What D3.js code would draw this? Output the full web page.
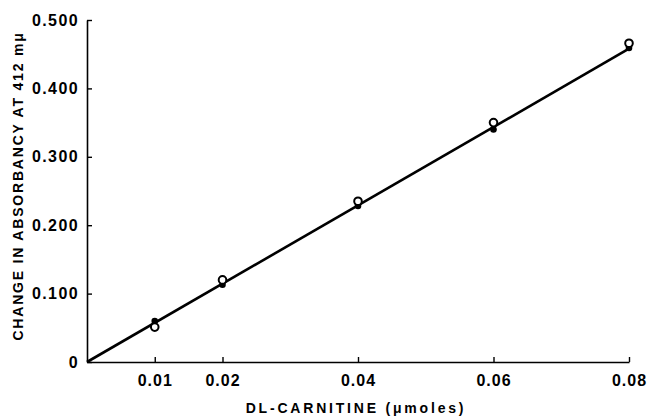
<!DOCTYPE html>
<html>
<head>
<meta charset="utf-8">
<script src="https://cdn.jsdelivr.net/npm/d3@7"></script>
<style>
  html, body { margin: 0; padding: 0; background: #fff; }
  svg { display: block; }
  text { font-family: "Liberation Sans", Arial, sans-serif; font-weight: bold; fill: #000; }
</style>
</head>
<body>
<svg id="chart" width="647" height="418"></svg>
<script>
// ---- data ----
const concentrations = [0.01, 0.02, 0.04, 0.06, 0.08];
const openCircleValues = [0.051, 0.120, 0.235, 0.350, 0.466];
const filledDotValues = [0.060, 0.113, 0.228, 0.340, 0.459];
const fitLineX = [0, 0.08];
const fitLineY = [0, 0.458];
const xTickValues = [0.01, 0.02, 0.04, 0.06, 0.08];
const yTickValues = [0, 0.1, 0.2, 0.3, 0.4, 0.5];
const xTitle = "DL-CARNITINE (\u03bcmoles)";
const yTitle = "CHANGE IN ABSORBANCY AT 412 m\u03bc";

// ---- layout ----
const plotLeft = 87, plotRight = 629, plotTop = 20, plotBottom = 362;

const svg = d3.select("#chart");
const x = d3.scaleLinear().domain([0, 0.08]).range([plotLeft, plotRight]);
const y = d3.scaleLinear().domain([0, 0.5]).range([plotBottom, plotTop]);

// axes
const xAxis = d3.axisBottom(x).tickValues(xTickValues)
  .tickFormat(d3.format(".2f")).tickSizeInner(-5).tickSizeOuter(0).tickPadding(13);
const yAxis = d3.axisLeft(y).tickValues(yTickValues)
  .tickFormat(d => d === 0 ? "0" : d3.format(".3f")(d)).tickSizeInner(-5).tickSizeOuter(0).tickPadding(8);

const gx = svg.append("g").attr("transform", `translate(0,${plotBottom})`).call(xAxis);
const gy = svg.append("g").attr("transform", `translate(${plotLeft},0)`).call(yAxis);

[gx, gy].forEach(g => {
  g.select(".domain").attr("stroke", "#000").attr("stroke-width", 1.6);
  g.selectAll(".tick line").attr("stroke", "#000").attr("stroke-width", 1.4);
  g.selectAll(".tick text").attr("font-size", 16).attr("font-family", "Liberation Sans, Arial, sans-serif")
    .attr("font-weight", "bold").attr("fill", "#000").style("letter-spacing", "1px");
});
gy.selectAll(".tick text").attr("font-size", 16).style("letter-spacing", "1.4px");

// fit line
const line = d3.line().x(d => x(d[0])).y(d => y(d[1]));
svg.append("path")
  .datum(fitLineX.map((v, i) => [v, fitLineY[i]]))
  .attr("d", line)
  .attr("fill", "none").attr("stroke", "#000").attr("stroke-width", 2.6);

// filled dots
svg.append("g").selectAll("circle")
  .data(concentrations.map((c, i) => [c, filledDotValues[i]]))
  .join("circle")
  .attr("cx", d => x(d[0])).attr("cy", d => y(d[1]))
  .attr("r", 3.3).attr("fill", "#000");

// open circles
svg.append("g").selectAll("circle")
  .data(concentrations.map((c, i) => [c, openCircleValues[i]]))
  .join("circle")
  .attr("cx", d => x(d[0])).attr("cy", d => y(d[1]))
  .attr("r", 3.8).attr("fill", "#fff").attr("stroke", "#000").attr("stroke-width", 2);

// titles
svg.append("text")
  .attr("x", 356).attr("y", 413)
  .attr("text-anchor", "middle")
  .attr("font-size", 14)
  .style("letter-spacing", "2.8px")
  .text(xTitle);

svg.append("text")
  .attr("transform", `translate(23,${(18 + 354) / 2}) rotate(-90)`)
  .attr("text-anchor", "middle")
  .attr("font-size", 14)
  .style("letter-spacing", "1.8px")
  .text(yTitle);
</script>
</body>
</html>
